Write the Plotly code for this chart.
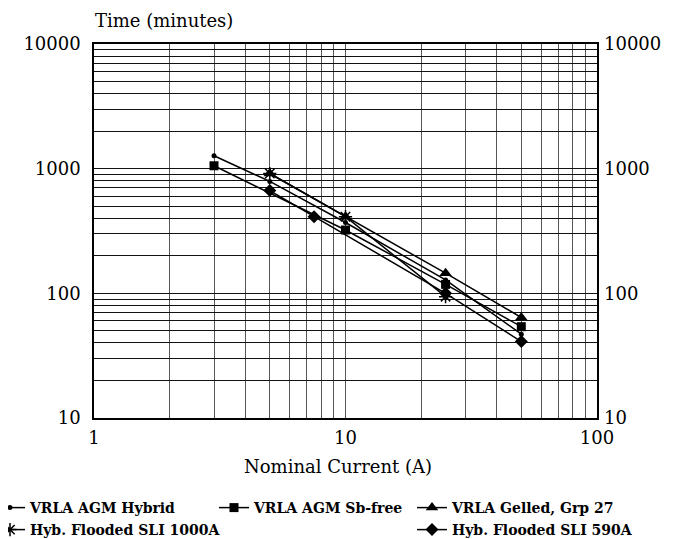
import plotly.graph_objects as go

# ---- data ----
current_hybrid = [3, 5, 10, 25, 50]
time_hybrid = [1270, 790, 370, 128, 47]

current_sbfree = [3, 10, 25, 50]
time_sbfree = [1055, 322, 118, 54]

current_gelled = [5, 10, 25, 50]
time_gelled = [915, 412, 145, 64]

current_sli1000 = [5, 10, 25]
time_sli1000 = [915, 412, 94]

current_sli590 = [5, 7.5, 25, 50]
time_sli590 = [667, 412, 100, 41]

x_grid_vals = [1, 2, 3, 4, 5, 6, 7, 8, 9, 10, 20, 30, 40, 50, 60, 70, 80, 90, 100]
x_tick_text = ["1"] + [""] * 8 + ["10"] + [""] * 8 + ["100"]
y_grid_vals = [v * m for m in (10, 100, 1000) for v in range(1, 10)] + [10000]
y_tick_text = [("%d" % v if str(v).strip("0") == "1" else "") for v in y_grid_vals]
y_dec_vals = [10, 100, 1000, 10000]
y_dec_text = ["10", "100", "1000", "10000"]

names = ["VRLA AGM Hybrid", "VRLA AGM Sb-free", "VRLA Gelled, Grp 27",
         "Hyb. Flooded SLI 1000A", "Hyb. Flooded SLI 590A"]

FONT = "DejaVu Serif"
OFF = 8  # page body margin
W, H = 673 - OFF, 539 - OFF
L, R, T, B = 94 - OFF, 76, 44 - OFF, 121
PW, PH = W - L - R, H - T - B


def px_x(px):  # page pixel -> paper
    return (px - OFF - L) / PW


def px_y(py):
    return (H - B - (py - OFF)) / PH


fig = go.Figure()
series = [
    (current_hybrid, time_hybrid, dict(symbol="circle", size=5, color="black")),
    (current_sbfree, time_sbfree, dict(symbol="square", size=9, color="black")),
    (current_gelled, time_gelled, dict(symbol="triangle-up", size=11, color="black")),
    (current_sli1000, time_sli1000, dict(symbol="asterisk-open", size=11, color="black",
                                         line=dict(color="black", width=1.5))),
    (current_sli590, time_sli590, dict(symbol="diamond", size=10, color="black")),
]
legend_ids = ["legend", "legend2", "legend3", "legend4", "legend5"]
for (xs, ys, mk), nm, lg in zip(series, names, legend_ids):
    fig.add_trace(go.Scatter(x=xs, y=ys, mode="lines+markers", name=nm,
                             line=dict(color="black", width=1.5), marker=mk,
                             legend=lg))

# invisible trace so the right-hand axis is drawn
fig.add_trace(go.Scatter(x=[1], y=[10], yaxis="y2", mode="markers",
                         marker=dict(opacity=0), showlegend=False, hoverinfo="skip"))

leg_common = dict(orientation="h", font=dict(family=FONT, size=14, color="black",
                                             weight="bold"),
                  bgcolor="rgba(0,0,0,0)", borderwidth=0, itemwidth=30,
                  xanchor="left", yanchor="middle", tracegroupgap=0)
text_starts = [(30, 508), (254, 508), (452, 508), (30, 530), (452, 530)]
legend_layout = {}
for lg, (tx, ty) in zip(legend_ids, text_starts):
    legend_layout[lg] = dict(leg_common, x=px_x(tx - 40), y=px_y(ty))

fig.update_layout(
    width=W, height=H,
    margin=dict(l=L, r=R, t=T, b=B, autoexpand=False),
    paper_bgcolor="white", plot_bgcolor="white",
    font=dict(family=FONT, color="black"),
    xaxis=dict(type="log", range=[0, 2], tickmode="array", tickvals=x_grid_vals,
               ticktext=x_tick_text, showgrid=True, gridcolor="#555", gridwidth=1,
               showline=True, linecolor="black", linewidth=1.5, mirror=True,
               ticks="", zeroline=False, tickfont=dict(family=FONT, size=18),
               ticklabelstandoff=3),
    yaxis=dict(type="log", range=[1, 4], tickmode="array", tickvals=y_grid_vals,
               ticktext=y_tick_text, showgrid=True, gridcolor="#111", gridwidth=1,
               showline=True, linecolor="black", linewidth=1.5, mirror=True,
               ticks="", zeroline=False, tickfont=dict(family=FONT, size=18),
               ticklabelstandoff=8),
    yaxis2=dict(type="log", range=[1, 4], overlaying="y", side="right",
                tickmode="array", tickvals=y_dec_vals, ticktext=y_dec_text,
                showgrid=False, zeroline=False, showline=False, ticks="",
                tickfont=dict(family=FONT, size=18), ticklabelstandoff=6),
    showlegend=True,
    annotations=[
        dict(text="Time (minutes)", xref="paper", yref="paper", x=px_x(93), y=px_y(21),
             xanchor="left", yanchor="middle", showarrow=False,
             font=dict(family=FONT, size=18, color="black")),
        dict(text="Nominal Current (A)", xref="paper", yref="paper", x=px_x(338),
             y=px_y(466), xanchor="center", yanchor="middle", showarrow=False,
             font=dict(family=FONT, size=18, color="black")),
    ],
    **legend_layout,
)

fig.write_html("out.html")
